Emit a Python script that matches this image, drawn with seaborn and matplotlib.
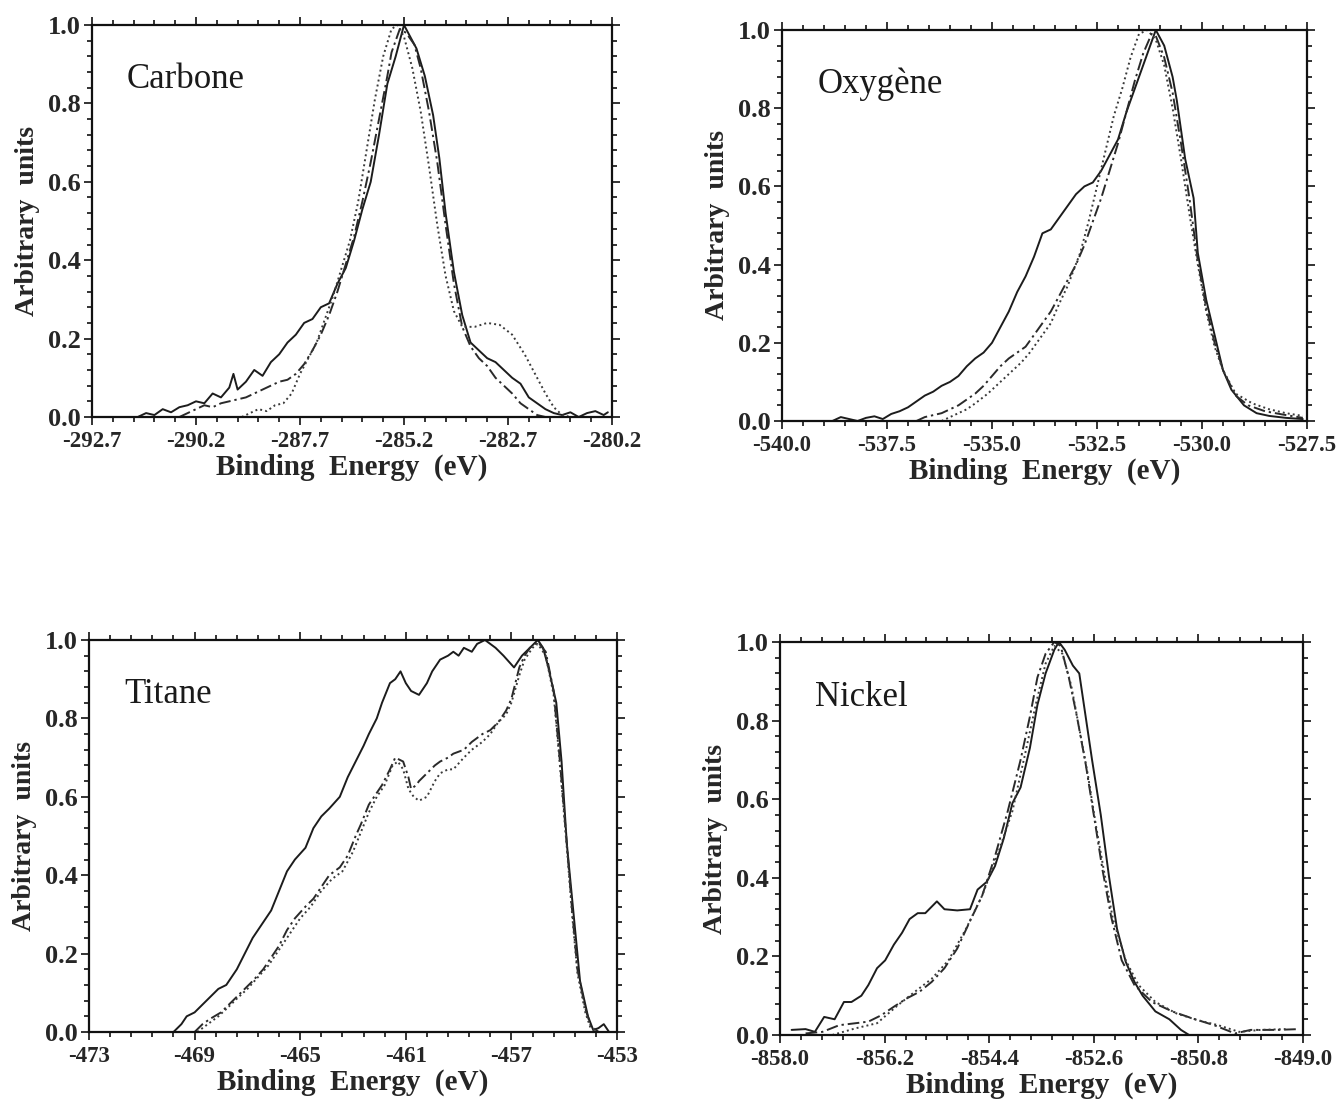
import numpy as np
import pandas as pd
import matplotlib
matplotlib.use("Agg")
import matplotlib.pyplot as plt
from matplotlib.ticker import FormatStrFormatter
import seaborn as sns

# ---------------- data ----------------
# Carbone
c_solid_x = [-291.6, -291.4, -291.2, -291.0, -290.8, -290.6, -290.4, -290.2, -290.0, -289.8,
             -289.6, -289.4, -289.3, -289.2, -289.0, -288.8, -288.6, -288.4, -288.2, -288.0,
             -287.8, -287.6, -287.4, -287.2, -287.0, -286.8, -286.6, -286.4, -286.2, -286.0,
             -285.8, -285.6, -285.4, -285.2, -285.05, -284.9, -284.7, -284.5, -284.35, -284.2,
             -284.0, -283.8, -283.6, -283.4, -283.2, -283.0, -282.8, -282.6, -282.4, -282.2,
             -282.0, -281.8, -281.6, -281.4, -281.2, -281.0, -280.8, -280.6, -280.4, -280.3]
c_solid_y = [0.0, 0.01, 0.005, 0.02, 0.012, 0.025, 0.03, 0.04, 0.035, 0.06,
             0.05, 0.075, 0.11, 0.07, 0.09, 0.12, 0.105, 0.14, 0.16, 0.19,
             0.21, 0.24, 0.25, 0.28, 0.29, 0.34, 0.38, 0.45, 0.53, 0.60,
             0.72, 0.85, 0.92, 1.0, 0.97, 0.94, 0.87, 0.77, 0.66, 0.52,
             0.37, 0.26, 0.19, 0.17, 0.15, 0.14, 0.12, 0.10, 0.085, 0.05,
             0.035, 0.02, 0.01, 0.005, 0.012, 0.0, 0.01, 0.015, 0.005, 0.012]
c_dd_x = [-290.6, -290.4, -290.2, -290.0, -289.8, -289.6, -289.4, -289.2, -289.0, -288.8,
          -288.6, -288.4, -288.2, -288.0, -287.8, -287.6, -287.4, -287.2, -287.0, -286.8,
          -286.6, -286.4, -286.2, -286.0, -285.8, -285.6, -285.5, -285.3, -285.15, -284.95,
          -284.8, -284.6, -284.4, -284.2, -284.0, -283.8, -283.6, -283.4, -283.2, -283.0,
          -282.8, -282.6, -282.4, -282.2, -282.0, -281.8]
c_dd_y = [0.0, 0.01, 0.02, 0.03, 0.025, 0.035, 0.04, 0.045, 0.05, 0.06,
          0.07, 0.08, 0.09, 0.095, 0.11, 0.135, 0.17, 0.21, 0.26, 0.32,
          0.39, 0.46, 0.55, 0.65, 0.76, 0.87, 0.93, 0.99, 0.98, 0.95,
          0.89, 0.78, 0.65, 0.49, 0.34, 0.23, 0.18, 0.15, 0.13, 0.10,
          0.08, 0.06, 0.035, 0.02, 0.005, 0.0]
c_dot_x = [-289.1, -288.9, -288.7, -288.5, -288.3, -288.1, -287.9, -287.7, -287.5, -287.3,
           -287.1, -286.9, -286.7, -286.5, -286.3, -286.1, -285.9, -285.7, -285.5, -285.35,
           -285.2, -285.0, -284.8, -284.6, -284.4, -284.2, -284.0, -283.8, -283.5, -283.2,
           -282.9, -282.6, -282.3, -282.0, -281.8, -281.6, -281.4, -281.2]
c_dot_y = [0.0, 0.01, 0.02, 0.015, 0.03, 0.035, 0.06, 0.11, 0.15, 0.19,
           0.25, 0.31, 0.38, 0.45, 0.55, 0.68, 0.81, 0.92, 0.99, 1.0,
           0.97, 0.89, 0.78, 0.64, 0.49, 0.36, 0.27, 0.23, 0.23, 0.24,
           0.235, 0.21, 0.16, 0.10, 0.06, 0.025, 0.005, 0.0]

# Oxygene
o_solid_x = [-538.8, -538.6, -538.4, -538.2, -538.0, -537.8, -537.6, -537.4, -537.2, -537.0,
             -536.8, -536.6, -536.4, -536.2, -536.0, -535.8, -535.6, -535.4, -535.2, -535.0,
             -534.8, -534.6, -534.4, -534.2, -534.0, -533.8, -533.6, -533.4, -533.2, -533.0,
             -532.8, -532.6, -532.4, -532.2, -532.0, -531.8, -531.6, -531.4, -531.2, -531.1,
             -530.9, -530.7, -530.6, -530.4, -530.2, -530.1, -529.9, -529.7, -529.5, -529.3,
             -529.0, -528.7, -528.4, -528.0, -527.6]
o_solid_y = [0.0, 0.01, 0.005, 0.0, 0.008, 0.012, 0.005, 0.018, 0.025, 0.035,
             0.05, 0.065, 0.075, 0.09, 0.10, 0.115, 0.14, 0.16, 0.175, 0.20,
             0.24, 0.28, 0.33, 0.37, 0.42, 0.48, 0.49, 0.52, 0.55, 0.58,
             0.60, 0.61, 0.64, 0.68, 0.72, 0.79, 0.85, 0.91, 0.97, 1.0,
             0.96, 0.88, 0.82, 0.67, 0.57, 0.43, 0.31, 0.22, 0.13, 0.08,
             0.04, 0.02, 0.013, 0.008, 0.005]
o_dd_x = [-536.8, -536.6, -536.4, -536.2, -536.0, -535.8, -535.6, -535.4, -535.2, -535.0,
          -534.8, -534.6, -534.4, -534.2, -534.0, -533.8, -533.6, -533.4, -533.2, -533.0,
          -532.8, -532.6, -532.4, -532.2, -532.0, -531.8, -531.6, -531.4, -531.2, -531.1,
          -530.9, -530.7, -530.5, -530.3, -530.1, -529.9, -529.7, -529.5, -529.2, -528.9,
          -528.5, -528.1, -527.6]
o_dd_y = [0.0, 0.01, 0.015, 0.02, 0.03, 0.04, 0.055, 0.07, 0.09, 0.115,
          0.14, 0.16, 0.175, 0.19, 0.22, 0.25, 0.28, 0.32, 0.36, 0.40,
          0.45, 0.51, 0.57, 0.64, 0.71, 0.79, 0.87, 0.94, 0.99, 0.985,
          0.93, 0.84, 0.71, 0.57, 0.41, 0.29, 0.20, 0.13, 0.065, 0.04,
          0.025, 0.017, 0.008]
o_dot_x = [-536.2, -536.0, -535.8, -535.6, -535.4, -535.1, -534.8, -534.6, -534.3, -534.1,
           -533.8, -533.6, -533.4, -533.2, -532.9, -532.7, -532.5, -532.3, -532.1, -531.9,
           -531.7, -531.5, -531.3, -531.1, -530.9, -530.7, -530.5, -530.3, -530.1, -529.9,
           -529.7, -529.5, -529.2, -528.8, -528.4, -528.0, -527.6]
o_dot_y = [0.0, 0.01, 0.02, 0.03, 0.045, 0.07, 0.10, 0.12, 0.15, 0.175,
           0.22, 0.25, 0.30, 0.345, 0.43, 0.51, 0.60, 0.69, 0.78, 0.85,
           0.93, 0.99, 1.0, 0.975, 0.91, 0.80, 0.67, 0.53, 0.40, 0.28,
           0.19, 0.13, 0.07, 0.045, 0.03, 0.02, 0.013]

# Titane
t_solid_x = [-469.8, -469.5, -469.3, -469.0, -468.7, -468.4, -468.1, -467.8, -467.4, -467.1,
             -466.8, -466.4, -466.1, -465.8, -465.5, -465.2, -464.8, -464.5, -464.2, -463.9,
             -463.5, -463.2, -462.9, -462.6, -462.4, -462.1, -461.9, -461.6, -461.4, -461.2,
             -461.0, -460.8, -460.5, -460.2, -460.0, -459.7, -459.4, -459.2, -459.0, -458.8,
             -458.5, -458.3, -458.0, -457.8, -457.6, -457.3, -456.9, -456.6, -456.3, -456.0,
             -455.8, -455.6, -455.3, -455.1, -454.9, -454.6, -454.4, -454.1, -453.9, -453.7,
             -453.5, -453.3]
t_solid_y = [0.0, 0.02, 0.04, 0.05, 0.07, 0.09, 0.11, 0.12, 0.16, 0.20,
             0.24, 0.28, 0.31, 0.36, 0.41, 0.44, 0.47, 0.52, 0.55, 0.57,
             0.60, 0.65, 0.69, 0.73, 0.76, 0.80, 0.84, 0.89, 0.90, 0.92,
             0.89, 0.87, 0.86, 0.89, 0.92, 0.95, 0.96, 0.97, 0.96, 0.98,
             0.97, 0.99, 1.0, 0.99, 0.98, 0.96, 0.93, 0.96, 0.98, 1.0,
             0.98, 0.93, 0.84, 0.69, 0.48, 0.27, 0.13, 0.04, 0.005, 0.01,
             0.02, 0.0]
t_dd_x = [-469.0, -468.7, -468.4, -468.0, -467.7, -467.4, -467.1, -466.8, -466.4, -466.1,
          -465.8, -465.5, -465.2, -464.8, -464.5, -464.2, -463.9, -463.5, -463.2, -462.9,
          -462.7, -462.4, -462.1, -461.9, -461.6, -461.4, -461.1, -460.9, -460.8, -460.6,
          -460.5, -460.2, -459.9, -459.7, -459.4, -459.2, -458.8, -458.5, -458.1, -457.8,
          -457.5, -457.2, -457.0, -456.7, -456.5, -456.3, -456.0, -455.7, -455.4, -455.2,
          -454.9, -454.7, -454.5, -454.2, -454.0, -453.7]
t_dd_y = [0.0, 0.02, 0.034, 0.05, 0.07, 0.09, 0.11, 0.13, 0.16, 0.19,
          0.22, 0.26, 0.29, 0.32, 0.34, 0.37, 0.40, 0.42, 0.45, 0.50,
          0.53, 0.58, 0.61, 0.63, 0.67, 0.70, 0.69, 0.65, 0.62, 0.63,
          0.64, 0.66, 0.68, 0.69, 0.70, 0.71, 0.72, 0.74, 0.76, 0.77,
          0.79, 0.82, 0.85, 0.93, 0.96, 0.98, 0.995, 0.97, 0.87, 0.72,
          0.48, 0.31, 0.16, 0.06, 0.017, 0.0]
t_dot_x = [-468.9, -468.5, -468.1, -467.7, -467.4, -467.0, -466.6, -466.2, -465.8, -465.4,
           -465.0, -464.6, -464.2, -463.8, -463.4, -463.0, -462.7, -462.4, -462.1, -461.8,
           -461.5, -461.3, -461.1, -460.9, -460.7, -460.5, -460.2, -459.9, -459.7, -459.4,
           -459.2, -458.8, -458.5, -458.1, -457.8, -457.5, -457.2, -457.0, -456.7, -456.5,
           -456.2, -456.0, -455.7, -455.4, -455.2, -454.9, -454.7, -454.5, -454.2, -454.0,
           -453.7]
t_dot_y = [0.0, 0.02, 0.04, 0.065, 0.085, 0.11, 0.14, 0.17, 0.21, 0.25,
           0.29, 0.32, 0.36, 0.39, 0.41, 0.46, 0.51, 0.56, 0.60, 0.63,
           0.68, 0.69, 0.67, 0.62, 0.60, 0.59, 0.60, 0.64, 0.66, 0.67,
           0.67, 0.70, 0.72, 0.74, 0.76, 0.79, 0.81, 0.84, 0.91, 0.95,
           0.98, 0.99, 0.96, 0.86, 0.71, 0.47, 0.30, 0.15, 0.05, 0.01,
           0.0]

# Nickel
n_solid_x = [-857.8, -857.56, -857.4, -857.24, -857.06, -856.9, -856.77, -856.6, -856.48, -856.33,
             -856.19, -856.04, -855.9, -855.77, -855.63, -855.5, -855.3, -855.17, -854.95, -854.73,
             -854.6, -854.44, -854.3, -854.15, -854.0, -853.86, -853.7, -853.57, -853.43, -853.28,
             -853.2, -853.1, -852.96, -852.85, -852.74, -852.63, -852.48, -852.34, -852.2, -852.05,
             -851.9, -851.76, -851.54, -851.3, -851.1, -850.96]
n_solid_y = [0.013, 0.015, 0.008, 0.046, 0.04, 0.084, 0.084, 0.10, 0.127, 0.17,
             0.19, 0.23, 0.26, 0.295, 0.31, 0.31, 0.34, 0.32, 0.317, 0.32,
             0.37, 0.39, 0.43, 0.50, 0.59, 0.63, 0.73, 0.84, 0.92, 0.98,
             1.0, 0.98, 0.94, 0.92, 0.81, 0.70, 0.56, 0.405, 0.27, 0.186,
             0.135, 0.10, 0.06, 0.04, 0.013, 0.0]
n_dd_x = [-857.56, -857.27, -856.98, -856.7, -856.48, -856.26, -856.04, -855.82, -855.6, -855.39,
          -855.17, -854.95, -854.73, -854.52, -854.3, -854.08, -853.86, -853.7, -853.57, -853.43,
          -853.28, -853.17, -853.03, -852.89, -852.74, -852.6, -852.45, -852.3, -852.12, -851.9,
          -851.6, -851.25, -850.9, -850.53, -850.17, -849.9, -849.44, -849.07]
n_dd_y = [0.004, 0.008, 0.025, 0.03, 0.034, 0.05, 0.072, 0.093, 0.11, 0.135,
          0.17, 0.22, 0.29, 0.355, 0.455, 0.57, 0.70, 0.81, 0.91, 0.97,
          1.0, 0.99, 0.91, 0.81, 0.69, 0.56, 0.42, 0.30, 0.19, 0.127,
          0.084, 0.06, 0.042, 0.025, 0.004, 0.013, 0.013, 0.015]
n_dot_x = [-857.1, -856.7, -856.33, -855.97, -855.68, -855.39, -855.1, -854.8, -854.52, -854.23,
           -854.0, -853.79, -853.6, -853.43, -853.28, -853.14, -852.99, -852.85, -852.7, -852.56,
           -852.41, -852.27, -852.05, -851.83, -851.54, -851.18, -850.82, -850.46, -850.1, -849.73,
           -849.3]
n_dot_y = [0.0, 0.017, 0.03, 0.076, 0.11, 0.143, 0.19, 0.27, 0.355, 0.47,
           0.57, 0.71, 0.84, 0.945, 0.99, 0.97, 0.89, 0.78, 0.66, 0.53,
           0.405, 0.295, 0.19, 0.127, 0.084, 0.055, 0.038, 0.025, 0.008, 0.013,
           0.015]

panel_names = ["Carbone", "Oxygène", "Titane", "Nickel"]
x_limits = [(-292.7, -280.2), (-540.0, -527.5), (-473.0, -453.0), (-858.0, -849.0)]
x_formats = ["%.1f", "%.1f", "%d", "%.1f"]

# ---------------- style ----------------
sns.set_theme(style="ticks")
plt.rcParams["font.family"] = ["Liberation Serif", "DejaVu Serif"]
plt.rcParams["axes.unicode_minus"] = False

fig = plt.figure(figsize=(13.37, 11.01), dpi=100)
rects = [
    (92 / 1337, 1 - 417 / 1101, 520 / 1337, 392 / 1101),
    (782 / 1337, 1 - 421 / 1101, 525 / 1337, 391 / 1101),
    (89 / 1337, 1 - 1032 / 1101, 528 / 1337, 392 / 1101),
    (780 / 1337, 1 - 1035 / 1101, 523 / 1337, 393 / 1101),
]

curves = [
    [(c_solid_x, c_solid_y), (c_dd_x, c_dd_y), (c_dot_x, c_dot_y)],
    [(o_solid_x, o_solid_y), (o_dd_x, o_dd_y), (o_dot_x, o_dot_y)],
    [(t_solid_x, t_solid_y), (t_dd_x, t_dd_y), (t_dot_x, t_dot_y)],
    [(n_solid_x, n_solid_y), (n_dd_x, n_dd_y), (n_dot_x, n_dot_y)],
]
styles = ["-", (0, (6, 2, 1.2, 2)), (0, (1, 1.6))]
colors = ["#1c1c1c", "#2a2a2a", "#3a3a3a"]

for i in range(4):
    ax = fig.add_axes(rects[i])
    for (xs, ys), ls, col in zip(curves[i], styles, colors):
        df = pd.DataFrame({"x": xs, "y": ys})
        sns.lineplot(data=df, x="x", y="y", ax=ax, estimator=None, sort=False,
                     color=col, linewidth=1.4, linestyle=ls)
    lo, hi = x_limits[i]
    ax.set_xlim(lo, hi)
    ax.set_ylim(0, 1.0)
    ax.set_xticks(np.linspace(lo, hi, 6))
    ax.set_xticks(np.linspace(lo, hi, 26), minor=True)
    ax.set_yticks(np.linspace(0, 1, 6))
    ax.set_yticks(np.linspace(0, 1, 26), minor=True)
    ax.xaxis.set_major_formatter(FormatStrFormatter(x_formats[i]))
    ax.yaxis.set_major_formatter(FormatStrFormatter("%.1f"))
    ax.tick_params(which="both", direction="out", top=True, right=True,
                   color="#111111", width=1.2)
    ax.tick_params(which="major", length=6)
    ax.tick_params(axis="x", which="major", labelsize=16.5, pad=4)
    ax.tick_params(axis="y", which="major", labelsize=19, pad=2)
    ax.tick_params(which="minor", length=3.5)
    for lab in ax.get_xticklabels() + ax.get_yticklabels():
        lab.set_fontweight("bold")
    for sp in ax.spines.values():
        sp.set_visible(True)
        sp.set_linewidth(1.6)
        sp.set_color("#111111")
    ax.set_xlabel("Binding  Energy  (eV)", fontsize=21, fontweight="bold", labelpad=1)
    ax.set_ylabel("Arbitrary  units", fontsize=20, fontweight="bold", labelpad=6)
    ax.text(0.067, 0.86, panel_names[i], transform=ax.transAxes, fontsize=25,
            va="center", ha="left", color="#1a1a1a")

fig.savefig("out.png", dpi=100)
